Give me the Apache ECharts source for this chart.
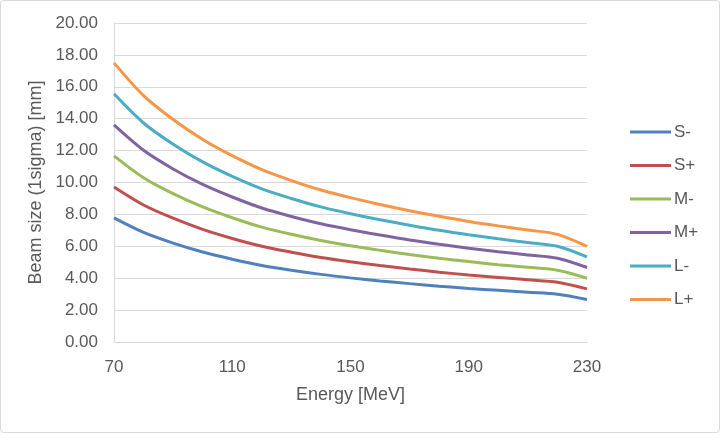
<!DOCTYPE html>
<html>
<head>
<meta charset="utf-8">
<script src="https://cdn.jsdelivr.net/npm/echarts@6/dist/echarts.min.js"></script>
<style>
html,body{margin:0;padding:0;background:#fff;}
#c{width:720px;height:433px;}
</style>
</head>
<body>
<div id="c"></div>
<script>
var energies = [70, 80, 90, 100, 110, 120, 130, 140, 150, 160, 170, 180, 190, 200, 210, 220, 230];
var seriesNames = ['S-', 'S+', 'M-', 'M+', 'L-', 'L+'];
var sMinus = [7.78, 6.87, 6.20, 5.64, 5.19, 4.80, 4.50, 4.24, 4.02, 3.83, 3.66, 3.50, 3.36, 3.24, 3.12, 3.00, 2.67];
var sPlus  = [9.72, 8.59, 7.76, 7.06, 6.49, 6.00, 5.63, 5.30, 5.03, 4.79, 4.58, 4.38, 4.20, 4.05, 3.90, 3.75, 3.33];
var mMinus = [11.67, 10.30, 9.30, 8.47, 7.79, 7.20, 6.75, 6.36, 6.03, 5.75, 5.49, 5.25, 5.04, 4.85, 4.68, 4.50, 4.00];
var mPlus  = [13.61, 12.02, 10.85, 9.88, 9.09, 8.40, 7.87, 7.41, 7.04, 6.71, 6.40, 6.13, 5.88, 5.66, 5.46, 5.25, 4.67];
var lMinus = [15.56, 13.73, 12.40, 11.29, 10.38, 9.60, 9.00, 8.47, 8.04, 7.66, 7.32, 7.00, 6.72, 6.47, 6.24, 6.00, 5.33];
var lPlus  = [17.50, 15.45, 13.95, 12.70, 11.68, 10.80, 10.12, 9.53, 9.05, 8.62, 8.23, 7.88, 7.56, 7.28, 7.02, 6.75, 6.00];
var allValues = [sMinus, sPlus, mMinus, mPlus, lMinus, lPlus];
var colors = ['#4F81BD', '#C0504D', '#9BBB59', '#8064A2', '#4BACC6', '#F79646'];

var font = 'Liberation Sans';
var chart = echarts.init(document.getElementById('c'));
chart.setOption({
  animation: false,
  backgroundColor: '#fff',
  color: colors,
  graphic: [{
    type: 'rect',
    shape: {x: 0.5, y: 0.5, width: 719, height: 432, r: 3},
    style: {fill: 'none', stroke: '#D9D9D9', lineWidth: 1},
    silent: true
  }],
  grid: {left: 114, right: 133, top: 23, bottom: 91, containLabel: false},
  legend: {
    orient: 'vertical',
    left: 630,
    top: 122,
    padding: 0,
    icon: 'rect',
    itemWidth: 41,
    itemHeight: 3,
    itemGap: 13.5,
    textStyle: {fontFamily: font, fontSize: 17, color: '#595959', lineHeight: 20, padding: [0, 0, 0, -2]},
    data: seriesNames
  },
  xAxis: {
    type: 'category',
    data: energies,
    boundaryGap: false,
    name: 'Energy [MeV]',
    nameLocation: 'middle',
    nameGap: 44,
    nameTextStyle: {fontFamily: font, fontSize: 18, color: '#595959'},
    axisLine: {show: true, lineStyle: {color: '#D9D9D9', width: 1}},
    axisTick: {show: false},
    axisLabel: {interval: 3, margin: 17, fontFamily: font, fontSize: 17, color: '#595959'},
    splitLine: {show: false}
  },
  yAxis: {
    type: 'value',
    min: 0,
    max: 20,
    interval: 2,
    name: 'Beam size (1sigma) [mm]',
    nameLocation: 'middle',
    nameGap: 63,
    nameTextStyle: {fontFamily: font, fontSize: 18, color: '#595959'},
    axisLine: {show: true, lineStyle: {color: '#D9D9D9', width: 1}},
    axisTick: {show: false},
    axisLabel: {margin: 16, fontFamily: font, fontSize: 17, color: '#595959',
      formatter: function (v) { return v.toFixed(2); }},
    splitLine: {show: true, lineStyle: {color: '#D9D9D9', width: 1}}
  },
  series: seriesNames.map(function (n, i) {
    return {
      name: n,
      type: 'line',
      data: allValues[i],
      smooth: 0.3,
      symbol: 'none',
      lineStyle: {width: 3, color: colors[i]},
      itemStyle: {color: colors[i]}
    };
  })
});
</script>
</body>
</html>
